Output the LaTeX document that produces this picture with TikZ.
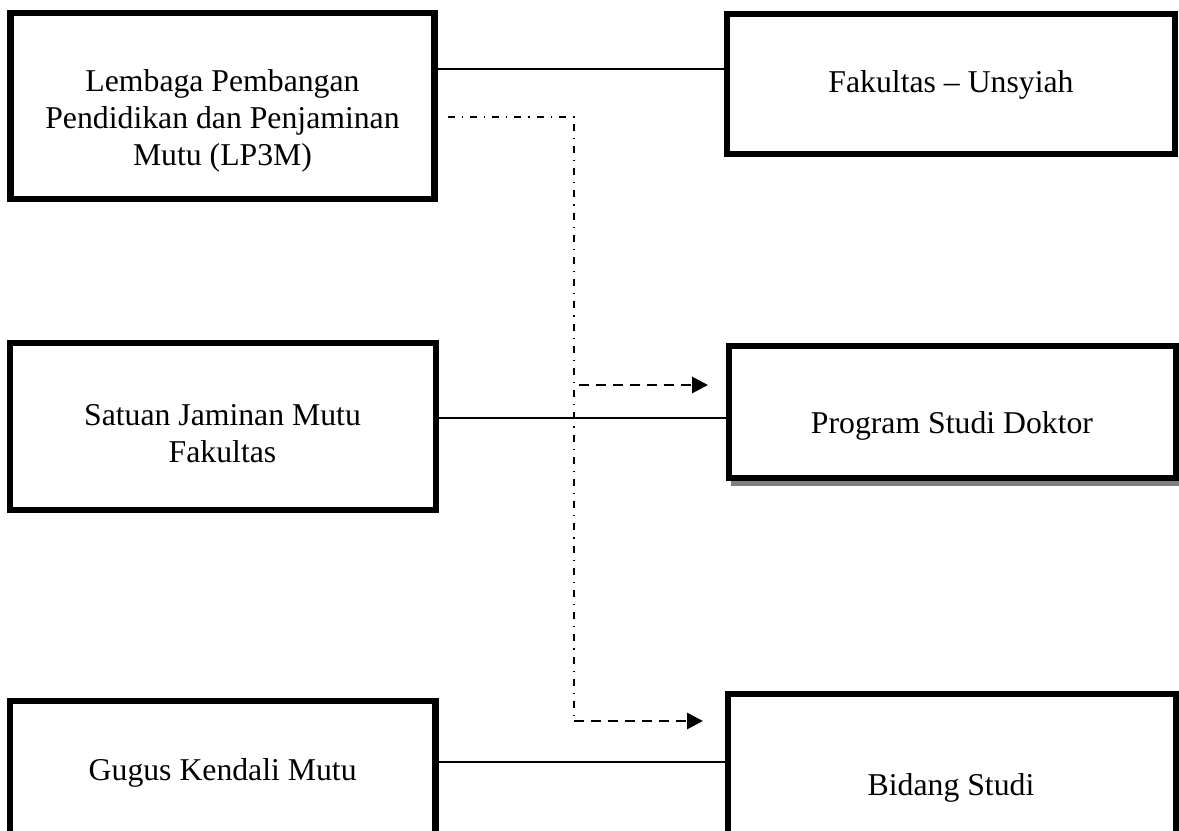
\documentclass[tikz,border=0pt]{standalone}
\usepackage{fontspec}
\setmainfont{Liberation Serif}
\usetikzlibrary{arrows.meta}
\begin{document}
\begin{tikzpicture}[x=0.75pt,y=-0.75pt,
  box/.style={draw=black, line width=4.8pt, fill=white, rectangle, anchor=north west, outer sep=0pt, inner sep=0pt},
  lbl/.style={font=\fontsize{23.8}{27.75}\selectfont, align=center, inner sep=0pt},
  link/.style={line width=1.5pt},
  dashdotline/.style={line width=1.4pt, dash pattern=on 5.25pt off 5.25pt on 0.9pt off 5.25pt},
  dasharrow/.style={line width=2.2pt, dash pattern=on 7.5pt off 5.25pt, -{Triangle[length=12pt,width=12pt]}}]
\useasboundingbox (0,0) rectangle (1179,831);
\clip (0,0) rectangle (1179,831);
% boxes
\node[box, minimum width=318pt, minimum height=139.5pt] (A) at (10.5,13) {};
\node[box, minimum width=336pt, minimum height=105pt] (B) at (727,14) {};
\node[box, minimum width=319.5pt, minimum height=125.25pt] (C) at (10,343) {};
\coordinate (Dnw) at (729,346);
\coordinate (Dse) at (1176,478);
\fill[gray] ([shift={(2,8)}]Dnw |- Dse) rectangle ([shift={(8,2)}]Dse |- Dnw);
\node[box, minimum width=335.25pt, minimum height=99pt] (D) at (Dnw) {};
\node[box, minimum width=319.1pt, minimum height=150pt] (E) at (10,701) {};
\node[box, minimum width=336pt, minimum height=150pt] (F) at (728,694) {};
% texts
\node[lbl] (tA) at (222.5,121) {Lembaga Pembangan\\Pendidikan dan Penjaminan\\Mutu (LP3M)};
\node[lbl, anchor=base] (tB) at (951,92.7) {Fakultas – Unsyiah};
\node[lbl] (tC) at (222.5,434) {Satuan Jaminan Mutu\\Fakultas};
\node[lbl, anchor=base] (tD) at (952,433) {Program Studi Doktor};
\node[lbl, anchor=base] (tE) at (222.7,780) {Gugus Kendali Mutu};
\node[lbl, anchor=base] (tF) at (951,795) {Bidang Studi};
% solid links
\coordinate (yab) at (0,69.3);
\draw[link] (A.east |- yab) -- (B.west |- yab);
\coordinate (ycd) at (0,418.3);
\draw[link] (C.east |- ycd) -- (D.west |- ycd);
\coordinate (yef) at (0,762);
\draw[link] (E.east |- yef) -- (F.west |- yef);
% dash-dot trunk
\coordinate (jtop) at (574,116.7);
\coordinate (jmid) at (574,385);
\coordinate (jbot) at (574,721);
\draw[dashdotline] ([xshift=10pt]A.east |- jtop) -- (jtop) -- (jbot);
\draw[dasharrow] ([xshift=3.75pt]jmid) -- ([xshift=-15.75pt]D.west |- jmid);
\draw[dasharrow] (jbot) -- ([xshift=-18.75pt]F.west |- jbot);
\end{tikzpicture}
\end{document}
